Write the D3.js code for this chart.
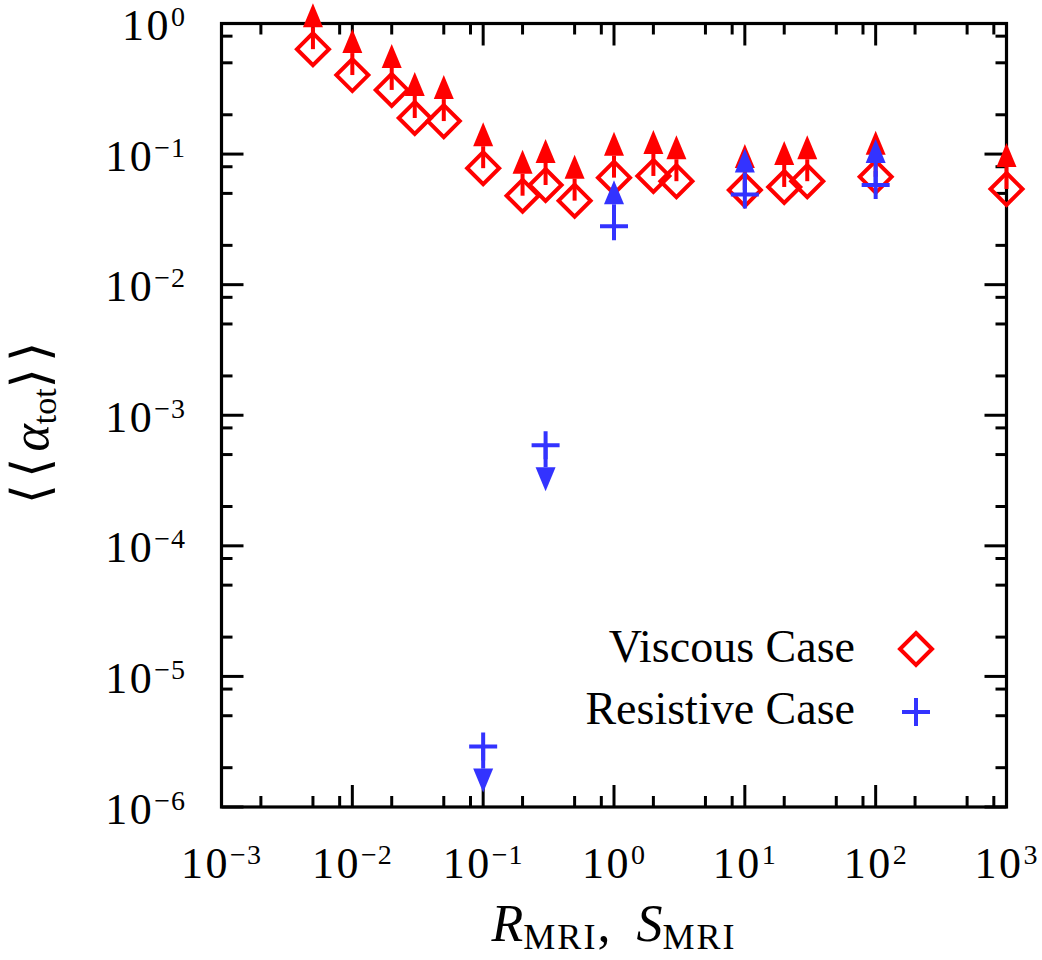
<!DOCTYPE html>
<html>
<head>
<meta charset="utf-8">
<script src="https://cdn.jsdelivr.net/npm/d3@7"></script>
<style>
  html, body { margin: 0; padding: 0; background: #fff; }
  svg { display: block; }
  text { font-family: "Liberation Serif", "DejaVu Serif", serif; fill: #000; }
</style>
</head>
<body>
<svg id="chart" width="1042" height="960"></svg>
<script>
// ---- Data ----
const xTickExponents = [-3, -2, -1, 0, 1, 2, 3];
const yTickExponents = [-6, -5, -4, -3, -2, -1, 0];
const minorMultipliers = [2, 5, 8];

const viscousX = [0.005, 0.01, 0.02, 0.03, 0.05, 0.1, 0.2, 0.3, 0.5, 1, 2, 3, 10, 20, 30, 100, 1000];
const viscousY = [0.636, 0.403, 0.31, 0.189, 0.179, 0.078, 0.048, 0.058, 0.044, 0.066, 0.068, 0.062, 0.053, 0.056, 0.062, 0.067, 0.054];

const resistiveX = [0.1, 0.3, 1, 10, 100];
const resistiveY = [2.9e-6, 5.9e-4, 0.028, 0.049, 0.058];
const resistiveDir = ["down", "down", "up", "up", "up"];

const legendLabels = ["Viscous Case", "Resistive Case"];

// ---- Layout ----
const pL = 221.5, pR = 1006.5, pT = 23.5, pB = 807;
const RED = "#ff0000", BLUE = "#3333ff";
const arrowFactor = 2.25; // arrow length in data space (multiplicative)

const svg = d3.select("#chart");
const x = d3.scaleLog().domain([1e-3, 1e3]).range([pL, pR]);
const y = d3.scaleLog().domain([1e-6, 1e0]).range([pB, pT]);

const majorX = xTickExponents.map(e => Math.pow(10, e));
const majorY = yTickExponents.map(e => Math.pow(10, e));
const minorX = [], minorY = [];
xTickExponents.slice(0, -1).forEach(e => minorMultipliers.forEach(m => minorX.push(m * Math.pow(10, e))));
yTickExponents.slice(0, -1).forEach(e => minorMultipliers.forEach(m => minorY.push(m * Math.pow(10, e))));

const frame = svg.append("g");
const tickG = frame.append("g").attr("stroke", "#000").attr("stroke-width", 3);
const MAJ = 22, MIN = 11;
majorX.forEach(v => {
  tickG.append("line").attr("x1", x(v)).attr("x2", x(v)).attr("y1", pB).attr("y2", pB - MAJ);
  tickG.append("line").attr("x1", x(v)).attr("x2", x(v)).attr("y1", pT).attr("y2", pT + MAJ);
});
minorX.forEach(v => {
  tickG.append("line").attr("x1", x(v)).attr("x2", x(v)).attr("y1", pB).attr("y2", pB - MIN);
  tickG.append("line").attr("x1", x(v)).attr("x2", x(v)).attr("y1", pT).attr("y2", pT + MIN);
});
majorY.forEach(v => {
  tickG.append("line").attr("y1", y(v)).attr("y2", y(v)).attr("x1", pL).attr("x2", pL + MAJ);
  tickG.append("line").attr("y1", y(v)).attr("y2", y(v)).attr("x1", pR).attr("x2", pR - MAJ);
});
minorY.forEach(v => {
  tickG.append("line").attr("y1", y(v)).attr("y2", y(v)).attr("x1", pL).attr("x2", pL + MIN);
  tickG.append("line").attr("y1", y(v)).attr("y2", y(v)).attr("x1", pR).attr("x2", pR - MIN);
});
frame.append("rect")
  .attr("x", pL).attr("y", pT).attr("width", pR - pL).attr("height", pB - pT)
  .attr("fill", "none").attr("stroke", "#000").attr("stroke-width", 3.2);

function expLabel(g, e, anchor) {
  const t = g.append("text").attr("text-anchor", anchor).attr("font-size", 44).attr("letter-spacing", 2.5);
  t.append("tspan").text("10");
  t.append("tspan").attr("dy", -14).attr("font-size", 28).attr("letter-spacing", 1)
    .text(e < 0 ? "\u2212" + Math.abs(e) : String(e));
  return t;
}
xTickExponents.forEach(e => {
  expLabel(svg, e, "middle").attr("x", x(Math.pow(10, e))).attr("y", pB + 71);
});
yTickExponents.forEach(e => {
  expLabel(svg, e, "end").attr("x", 186).attr("y", y(Math.pow(10, e)) + 16.5);
});

const xt = svg.append("text").attr("x", 614).attr("y", 941).attr("text-anchor", "middle").attr("font-size", 52);
xt.append("tspan").attr("font-style", "italic").text("R");
xt.append("tspan").attr("font-size", 36).attr("letter-spacing", 2).attr("dy", 8).text("MRI");
xt.append("tspan").attr("dy", -8).text(",\u2002");
xt.append("tspan").attr("font-style", "italic").text("S");
xt.append("tspan").attr("font-size", 36).attr("letter-spacing", 2).attr("dy", 8).text("MRI");

const yt = svg.append("text").attr("transform", "translate(48,420) rotate(-90)")
  .attr("text-anchor", "middle").attr("font-size", 52);
yt.append("tspan").attr("font-family", "DejaVu Serif").attr("letter-spacing", 6).text("\u27E8\u27E8");
yt.append("tspan").attr("font-style", "italic").text("\u03B1");
yt.append("tspan").attr("font-size", 34).attr("dy", 8).text("tot");
yt.append("tspan").attr("dy", -8).attr("font-family", "DejaVu Serif").attr("letter-spacing", 6).text("\u27E9\u27E9");

// ---- Marks ----
const marks = svg.append("g");
const diamond = (cx, cy, r) => `M${cx},${cy - r}L${cx + r},${cy}L${cx},${cy + r}L${cx - r},${cy}Z`;
function arrow(g, px, v, dir, color) {
  const x0 = x(px), y0 = y(v);
  const yTip = y(dir === "up" ? v * arrowFactor : v / arrowFactor);
  const s = dir === "up" ? 1 : -1;
  const headLen = 24, headHalf = 10;
  const yBase = yTip + s * headLen;
  g.append("line").attr("x1", x0).attr("x2", x0).attr("y1", y0).attr("y2", yBase)
    .attr("stroke", color).attr("stroke-width", 4);
  g.append("path").attr("d", `M${x0},${yTip}L${x0 + headHalf},${yBase}L${x0 - headHalf},${yBase}Z`)
    .attr("fill", color);
}

const red = marks.append("g");
viscousX.forEach((vx, i) => {
  red.append("path").attr("d", diamond(x(vx), y(viscousY[i]), 16))
    .attr("fill", "none").attr("stroke", RED).attr("stroke-width", 4);
});
viscousX.forEach((vx, i) => arrow(red, vx, viscousY[i], "up", RED));

const blue = marks.append("g");
resistiveX.forEach((vx, i) => {
  const cx = x(vx), cy = y(resistiveY[i]), r = 14;
  blue.append("path").attr("d", `M${cx - r},${cy}H${cx + r}M${cx},${cy - r}V${cy + r}`)
    .attr("stroke", BLUE).attr("stroke-width", 4).attr("fill", "none");
});
resistiveX.forEach((vx, i) => arrow(blue, vx, resistiveY[i], resistiveDir[i], BLUE));

// ---- Legend ----
const lg = svg.append("g");
lg.append("text").attr("x", 855).attr("y", 662).attr("text-anchor", "end").attr("font-size", 46).text(legendLabels[0]);
lg.append("text").attr("x", 855).attr("y", 724).attr("text-anchor", "end").attr("font-size", 46).text(legendLabels[1]);
lg.append("path").attr("d", diamond(916, 649, 16)).attr("fill", "none").attr("stroke", RED).attr("stroke-width", 4);
lg.append("path").attr("d", `M${916 - 14},712H${916 + 14}M916,${712 - 14}V${712 + 14}`)
  .attr("stroke", BLUE).attr("stroke-width", 4);
</script>
</body>
</html>
